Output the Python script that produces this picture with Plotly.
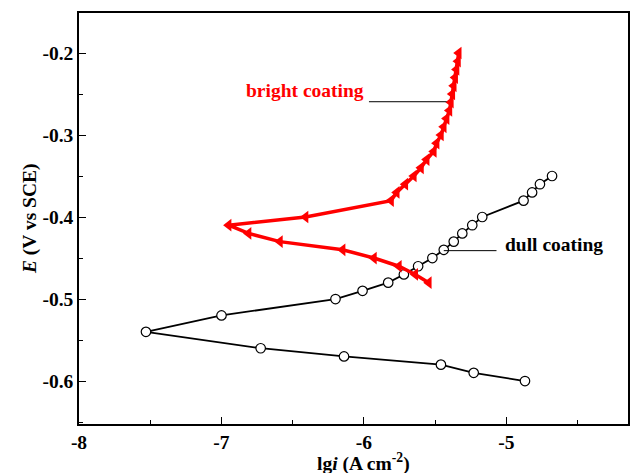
import plotly.graph_objects as go

# dull coating (open circles)
dull_x = [-4.87, -5.23, -5.46, -6.14, -6.725, -7.53, -7.00, -6.20, -6.01, -5.83, -5.72,
          -5.62, -5.52, -5.44, -5.37, -5.31, -5.24, -5.17, -4.88, -4.82, -4.765, -4.68]
dull_y = [-0.60, -0.59, -0.58, -0.57, -0.56, -0.54, -0.52, -0.50, -0.49, -0.48, -0.47,
          -0.46, -0.45, -0.44, -0.43, -0.42, -0.41, -0.40, -0.38, -0.37, -0.36, -0.35]

# bright coating (red left triangles)
bright_x = [-5.545, -5.64, -5.755, -5.93, -6.15, -6.59, -6.81, -6.95, -6.41,
            -5.81, -5.77, -5.71, -5.65, -5.60, -5.56, -5.51, -5.49, -5.46, -5.44,
            -5.42, -5.40, -5.39, -5.38, -5.37, -5.36, -5.35, -5.34, -5.335]
bright_y = [-0.48, -0.47, -0.46, -0.45, -0.44, -0.43, -0.42, -0.41, -0.40,
            -0.38, -0.37, -0.36, -0.35, -0.34, -0.33, -0.32, -0.31, -0.30, -0.29,
            -0.28, -0.27, -0.26, -0.25, -0.24, -0.23, -0.22, -0.21, -0.20]

x_ticks = [-8, -7, -6, -5]
y_ticks = [-0.6, -0.5, -0.4, -0.3, -0.2]

FONT = "Liberation Serif"
FS = 19.5

fig = go.Figure()
fig.add_trace(go.Scatter(
    x=dull_x, y=dull_y, mode="lines+markers",
    line=dict(color="black", width=1.8),
    marker=dict(symbol="circle", size=9.5, color="white", line=dict(color="black", width=1.2)),
    showlegend=False))
fig.add_trace(go.Scatter(
    x=bright_x, y=bright_y, mode="lines+markers",
    line=dict(color="#ff0000", width=3.5),
    marker=dict(symbol="triangle-left", size=11, color="#ff0000"),
    showlegend=False))

# annotation leader lines
fig.add_trace(go.Scatter(x=[-5.965, -5.42], y=[-0.2594, -0.2594], mode="lines",
                         line=dict(color="black", width=1), showlegend=False))
fig.add_trace(go.Scatter(x=[-5.44, -5.07], y=[-0.441, -0.441], mode="lines",
                         line=dict(color="black", width=1), showlegend=False))

fig.add_annotation(x=-5.985, y=-0.246, xref="x", yref="y", text="<b>bright coating</b>",
                   showarrow=False, xanchor="right", font=dict(family=FONT, size=FS, color="#ff0000"))
fig.add_annotation(x=-5.025, y=-0.433, xref="x", yref="y", text="<b>dull coating</b>",
                   showarrow=False, xanchor="left", font=dict(family=FONT, size=FS, color="black"))

fig.add_annotation(x=-0.09, y=0.5, xref="paper", yref="paper",
                   text="<b><i>E</i> (V vs SCE)</b>", textangle=-90, showarrow=False,
                   xanchor="center", yanchor="middle", font=dict(family=FONT, size=FS, color="black"))
fig.add_annotation(x=(365 - 79) / 551, y=-0.093, xref="paper", yref="paper",
                   text="<b>lg<i>i</i> (A cm<sup>-2</sup>)</b>", showarrow=False,
                   xanchor="center", yanchor="middle", font=dict(family=FONT, size=FS, color="black"))

axis_common = dict(showgrid=False, zeroline=False, showline=True, linecolor="black",
                   linewidth=1.6, mirror=True, ticks="inside", ticklen=7, tickwidth=1.3,
                   tickcolor="black", tickfont=dict(family=FONT, size=FS, color="black"))

fig.update_xaxes(range=[-8, -4.147], tickvals=x_ticks, ticktext=["<b>%d</b>" % v for v in x_ticks],
                 minor=dict(ticks="inside", ticklen=4, tickwidth=1, tickcolor="black", dtick=0.5, tick0=-8),
                 **axis_common)
fig.update_yaxes(range=[-0.6524, -0.1512], tickvals=y_ticks, ticktext=["<b>%.1f</b>" % v for v in y_ticks],
                 minor=dict(ticks="inside", ticklen=4, tickwidth=1, tickcolor="black", dtick=0.05, tick0=-0.2),
                 **axis_common)

fig.update_layout(width=633, height=473, margin=dict(l=79, r=3, t=13, b=49),
                  plot_bgcolor="white", paper_bgcolor="white",
                  font=dict(family=FONT, color="black"))

fig.write_html("out.html")
